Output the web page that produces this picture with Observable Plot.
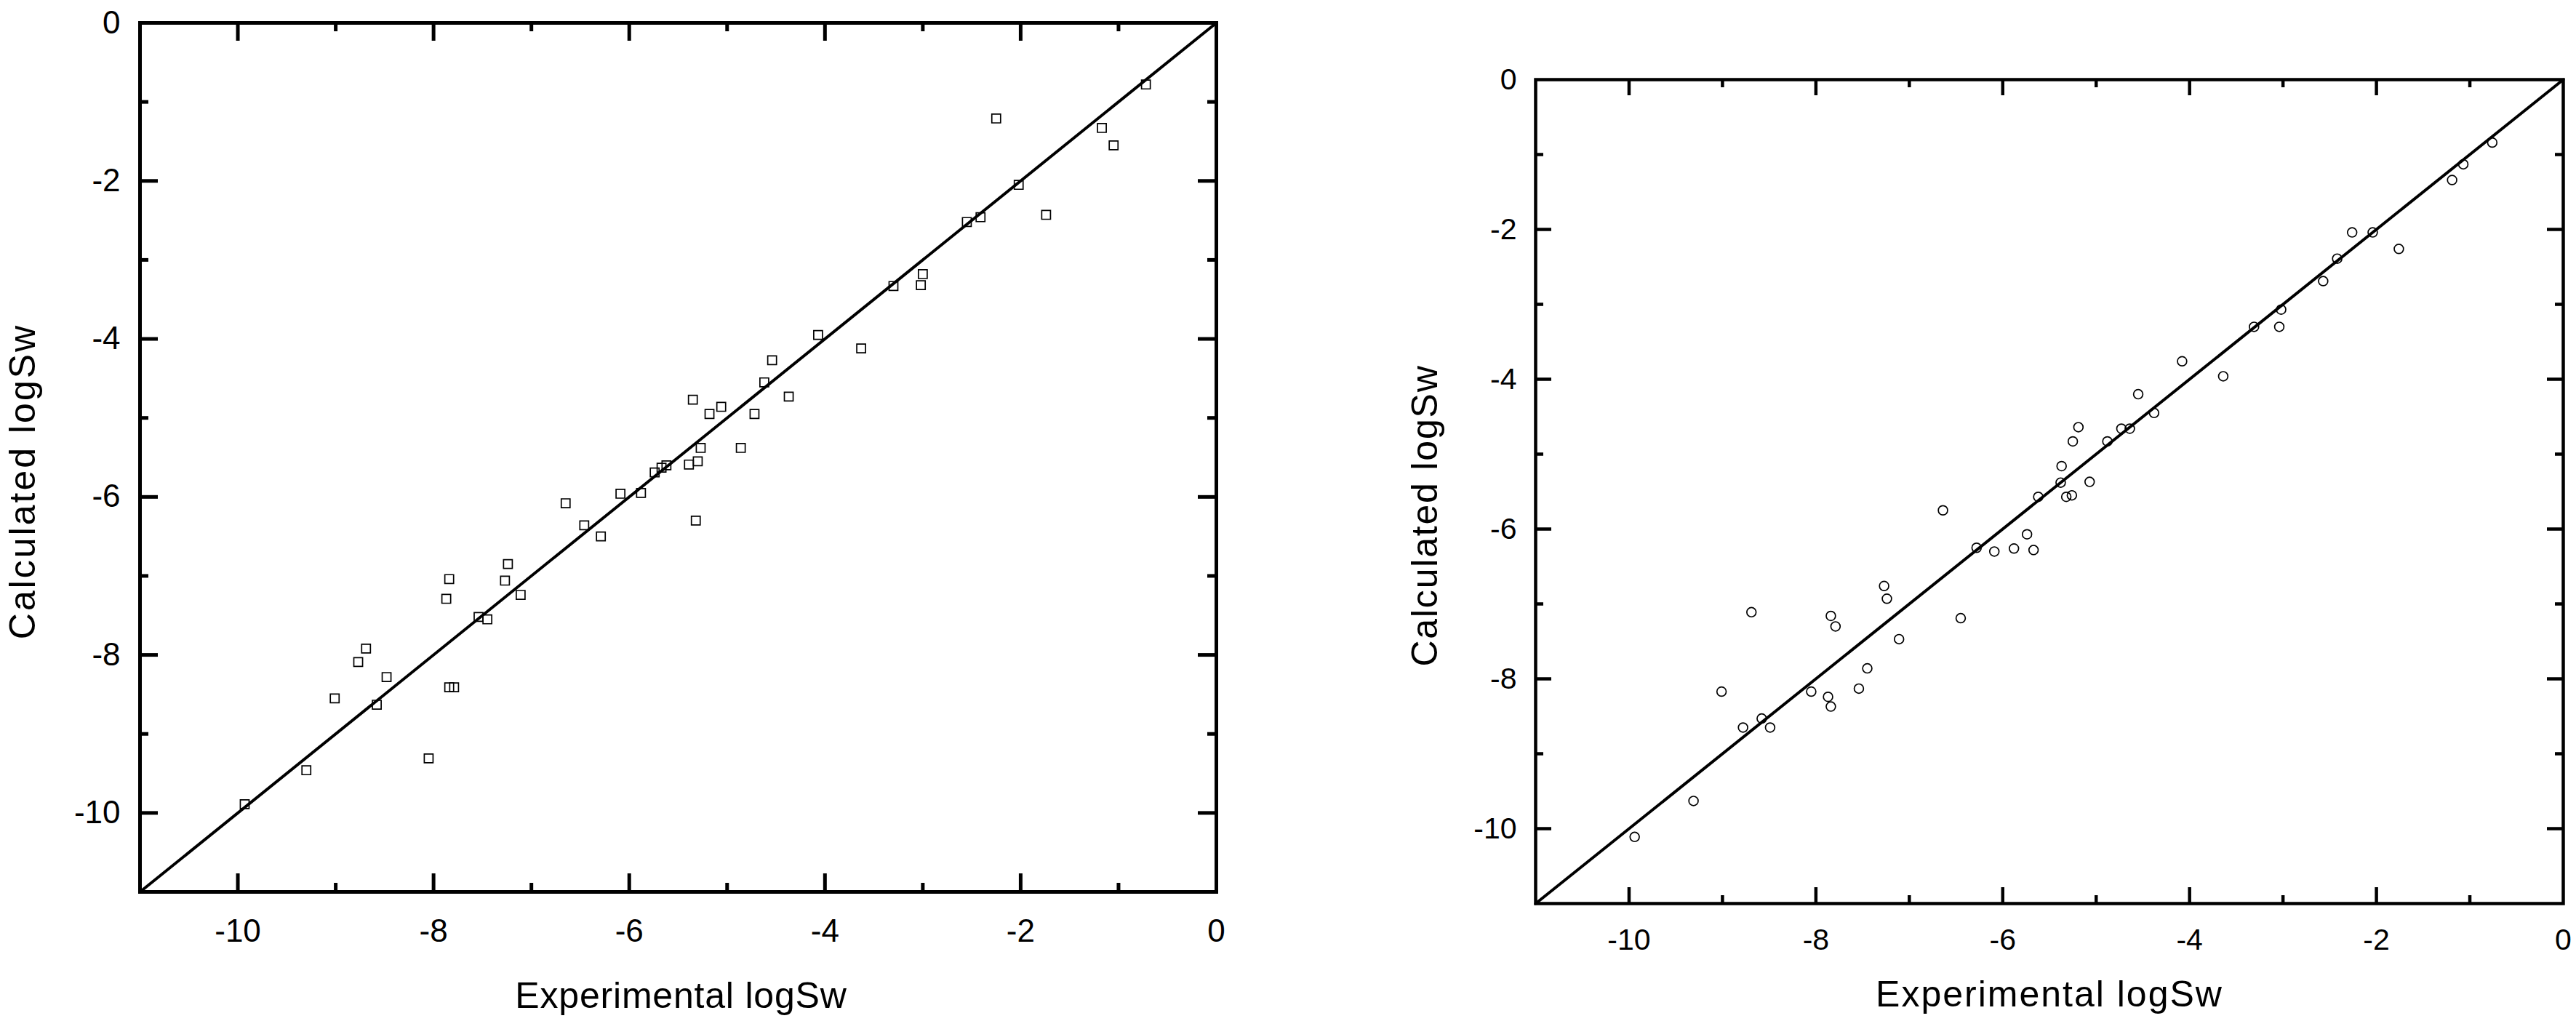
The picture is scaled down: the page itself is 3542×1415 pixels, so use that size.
<!DOCTYPE html>
<html>
<head>
<meta charset="utf-8">
<script src="https://cdn.jsdelivr.net/npm/d3@7"></script>
<script src="https://cdn.jsdelivr.net/npm/@observablehq/plot@0.6"></script>
<style>
  html, body { margin: 0; padding: 0; background: #fff; }
  #wrap { position: relative; width: 3542px; height: 1415px; background: #fff; overflow: hidden; }
  #left, #right { position: absolute; top: 0; }
  #left { left: 0; }
  #right { left: 1771px; }
</style>
</head>
<body>
<div id="wrap"><div id="left"></div><div id="right"></div></div>
<script>
// ---- data ----
const leftExperimental = [
  -9.93, -9.30, -9.01, -8.58, -8.77, -8.69, -8.48, -8.05, -7.84, -7.79,
  -7.87, -7.84, -7.54, -7.45, -7.27, -7.24, -7.11, -6.65, -6.46, -6.29,
  -6.09, -5.88, -5.74, -5.67, -5.62, -5.39, -5.30, -5.27, -5.32,
  -0.72, -2.25, -1.17, -1.05, -2.02, -2.55, -2.41, -1.74, -3.30, -3.00,
  -3.02, -4.07, -3.63, -4.54, -4.62, -4.37, -5.35, -5.06, -5.18, -4.72, -4.86
];
const leftCalculated = [
  -9.89, -9.46, -8.55, -8.63, -8.09, -7.92, -8.28, -9.31, -8.41, -8.41,
  -7.29, -7.04, -7.52, -7.55, -7.06, -6.85, -7.24, -6.08, -6.36, -6.50,
  -5.96, -5.95, -5.69, -5.63, -5.60, -5.59, -5.55, -5.38, -6.30,
  -0.78, -1.21, -1.33, -1.55, -2.05, -2.52, -2.46, -2.43, -3.33, -3.18,
  -3.32, -3.95, -4.12, -4.27, -4.55, -4.73, -4.77, -4.86, -4.95, -4.95, -5.38
];
const rightExperimental = [
  -9.94, -9.31, -9.01, -8.69, -8.78, -8.58, -8.49, -8.05, -7.87, -7.84,
  -7.84, -7.79, -7.54, -7.45, -7.27, -7.24, -7.11, -6.64, -6.45, -6.28,
  -6.09, -5.88, -5.74, -5.67, -5.62, -5.38, -5.32,
  -0.76, -1.07, -1.19, -2.26, -2.04, -1.76, -2.42, -2.57, -3.02, -3.31,
  -3.04, -4.08, -3.64, -4.55, -4.38, -5.19, -4.73, -4.64, -5.25, -4.88,
  -5.37, -5.07, -5.26
];
const rightCalculated = [
  -10.11, -9.63, -8.17, -7.11, -8.65, -8.53, -8.65, -8.17, -8.24, -8.37,
  -7.16, -7.30, -8.13, -7.86, -6.76, -6.93, -7.47, -5.75, -7.19, -6.25,
  -6.30, -6.26, -6.07, -6.28, -5.57, -5.38, -5.57,
  -0.84, -1.13, -1.34, -2.04, -2.04, -2.26, -2.39, -2.69, -3.07, -3.30,
  -3.30, -3.76, -3.96, -4.20, -4.45, -4.64, -4.66, -4.66, -4.83, -4.83,
  -5.16, -5.37, -5.55
];
const axisDomain = [-11, 0];          // both axes, and the y = x reference line
const majorTicks = [-10, -8, -6, -4, -2];
const minorTicks = [-9, -7, -5, -3, -1];
const tickLabels = [-10, -8, -6, -4, -2, 0];
const xTitle = "Experimental logSw";
const yTitle = "Calculated logSw";

const FONT = "'Liberation Sans', Arial, Helvetica, sans-serif";

function panel(exp, calc, cfg) {
  const data = exp.map((x, i) => ({x, y: calc[i]}));
  const diag = axisDomain.map(v => ({x: v, y: v}));
  const W = 1771, H = 1415;
  const fw = W - cfg.ml - cfg.mr, fh = H - cfg.mt - cfg.mb;
  const sw = cfg.sw;
  const marks = [
    Plot.line(diag, {x: "x", y: "y", stroke: "black", strokeWidth: 4}),
    Plot.dot(data, {x: "x", y: "y", symbol: cfg.symbol, r: cfg.r, stroke: "black", strokeWidth: 1.7, fill: "none"}),
    // inward ticks on all four sides
    Plot.tickX(majorTicks, {x: d => d, insetTop: fh - cfg.major, strokeWidth: sw}),
    Plot.tickX(minorTicks, {x: d => d, insetTop: fh - cfg.minor, strokeWidth: sw}),
    Plot.tickX(majorTicks, {x: d => d, insetBottom: fh - cfg.major, strokeWidth: sw}),
    Plot.tickX(minorTicks, {x: d => d, insetBottom: fh - cfg.minor, strokeWidth: sw}),
    Plot.tickY(majorTicks, {y: d => d, insetRight: fw - cfg.major, strokeWidth: sw}),
    Plot.tickY(minorTicks, {y: d => d, insetRight: fw - cfg.minor, strokeWidth: sw}),
    Plot.tickY(majorTicks, {y: d => d, insetLeft: fw - cfg.major, strokeWidth: sw}),
    Plot.tickY(minorTicks, {y: d => d, insetLeft: fw - cfg.minor, strokeWidth: sw}),
    Plot.frame({stroke: "black", strokeWidth: sw}),
    Plot.axisX({ticks: tickLabels, anchor: "bottom", tickSize: 0, tickPadding: cfg.xPad,
                fontSize: cfg.tickFont, tickFormat: d => String(d), label: null}),
    Plot.axisY({ticks: tickLabels, anchor: "left", tickSize: 0, tickPadding: cfg.yPad,
                fontSize: cfg.tickFont, tickFormat: d => String(d), label: null}),
    Plot.text([xTitle], {text: d => d, frameAnchor: "bottom", textAnchor: "middle", lineAnchor: "bottom",
                         dx: cfg.xtDx, dy: cfg.xtDy, fontSize: 50}),
    Plot.text([yTitle], {text: d => d, frameAnchor: "left", textAnchor: "middle", lineAnchor: "bottom",
                         rotate: -90, dx: cfg.ytDx, dy: cfg.ytDy, fontSize: 50})
  ];
  const svg = Plot.plot({
    width: W, height: H,
    marginLeft: cfg.ml, marginRight: cfg.mr, marginTop: cfg.mt, marginBottom: cfg.mb,
    x: {domain: axisDomain},
    y: {domain: axisDomain},
    style: {fontFamily: FONT, background: "white", color: "black", overflow: "visible"},
    marks
  });
  d3.select(svg).selectAll("text").filter(function () { return this.textContent === xTitle; })
    .style("letter-spacing", cfg.xtSpacing + "px");
  d3.select(svg).selectAll("text").filter(function () { return this.textContent === yTitle; })
    .style("letter-spacing", cfg.ytSpacing + "px");
  return svg;
}

document.getElementById("left").append(panel(leftExperimental, leftCalculated, {
  ml: 192, mr: 99, mt: 31, mb: 189, sw: 5, major: 25, minor: 12,
  symbol: "square", r: 6.8, tickFont: 44, xPad: 37, yPad: 27,
  xtDx: 4, xtDy: 159, ytDx: -145, ytDy: 33, xtSpacing: 0.8, ytSpacing: 3
}));
document.getElementById("right").append(panel(rightExperimental, rightCalculated, {
  ml: 340, mr: 18, mt: 109, mb: 173, sw: 4.5, major: 22, minor: 11,
  symbol: "circle", r: 6.4, tickFont: 41, xPad: 34, yPad: 26,
  xtDx: 0, xtDy: 141, ytDx: -136, ytDy: 33, xtSpacing: 2, ytSpacing: 1.8
}));
</script>
</body>
</html>
